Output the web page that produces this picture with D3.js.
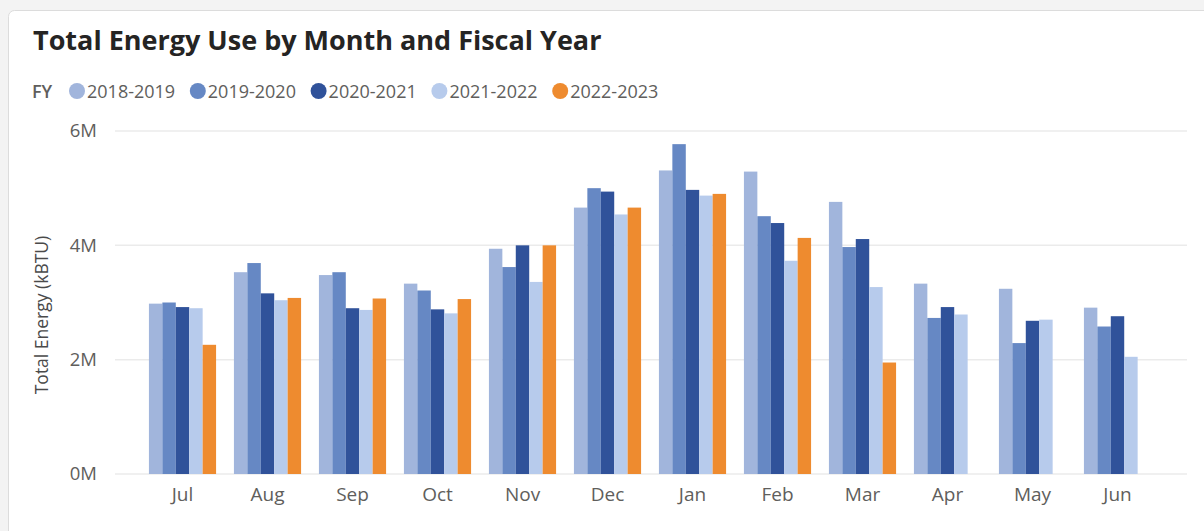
<!DOCTYPE html>
<html lang="en">
<head>
    <meta charset="UTF-8">
    <title>Total Energy Use by Month and Fiscal Year</title>
    <script src="https://cdn.jsdelivr.net/npm/d3@7/dist/d3.min.js"></script>
    <style>
        body { margin: 0; background: #f3f3f3; }
        svg { display: block; }
    </style>
</head>
<body>
    <script>
        // data (values in millions of kBTU)
        var months = ["Jul","Aug","Sep","Oct","Nov","Dec","Jan","Feb","Mar","Apr","May","Jun"];
        var fiscalYears = ["2018-2019","2019-2020","2020-2021","2021-2022","2022-2023"];
        var fy2018 = [2.98, 3.53, 3.48, 3.33, 3.94, 4.66, 5.31, 5.29, 4.76, 3.33, 3.24, 2.91];
        var fy2019 = [3.00, 3.69, 3.53, 3.21, 3.62, 5.00, 5.77, 4.51, 3.97, 2.73, 2.29, 2.58];
        var fy2020 = [2.92, 3.16, 2.90, 2.88, 4.00, 4.94, 4.97, 4.39, 4.11, 2.92, 2.68, 2.76];
        var fy2021 = [2.90, 3.04, 2.87, 2.81, 3.36, 4.54, 4.87, 3.73, 3.27, 2.79, 2.70, 2.05];
        var fy2022 = [2.26, 3.08, 3.07, 3.06, 4.00, 4.66, 4.90, 4.13, 1.95, null, null, null];
        var yTicks = [0, 2, 4, 6];
        var colors = ["#a1b5dc", "#6688c4", "#30529a", "#b7cbec", "#ee8b2f"];

        var series = [fy2018, fy2019, fy2020, fy2021, fy2022];
        var width = 1204, height = 531;
        var font = "Open Sans, sans-serif";

        var svg = d3.select("body").append("svg").attr("width", width).attr("height", height);

        // card
        svg.append("rect")
            .attr("x", 8.5).attr("y", 10.5)
            .attr("width", 1210).attr("height", 540)
            .attr("rx", 6)
            .attr("fill", "#fff")
            .attr("stroke", "#dcdcdc");

        svg.append("text")
            .attr("x", 33).attr("y", 50)
            .attr("font-family", font)
            .attr("font-weight", 700)
            .attr("font-size", 27)
            .attr("fill", "#252423")
            .text("Total Energy Use by Month and Fiscal Year");

        // legend
        var legend = svg.append("g").attr("font-family", font).attr("font-size", 18);
        legend.append("text").attr("x", 32).attr("y", 98)
            .attr("font-weight", 600).attr("fill", "#605e5c").text("FY");
        var lg = legend.selectAll("g.item").data(fiscalYears).enter().append("g")
            .attr("transform", function(d, i) { return "translate(" + (77 + i * 120.8) + ",91)"; });
        lg.append("circle").attr("r", 8).attr("fill", function(d, i) { return colors[i]; });
        lg.append("text").attr("x", 10).attr("y", 7).attr("fill", "#605e5c").text(function(d) { return d; });

        // scales
        var x = d3.scaleBand().domain(months).range([140, 1160]).paddingInner(0.21).paddingOuter(0.105);
        var xs = d3.scaleBand().domain(fiscalYears).range([0, x.bandwidth()]);
        var y = d3.scaleLinear().domain([0, 6]).range([474, 131]);

        // gridlines
        svg.append("g").selectAll("line").data(yTicks).enter().append("line")
            .attr("x1", 115).attr("x2", 1187)
            .attr("y1", function(d) { return y(d); }).attr("y2", function(d) { return y(d); })
            .attr("stroke", "#ebebeb").attr("stroke-width", 1.5);

        // y axis
        var yAxis = svg.append("g").attr("transform", "translate(97,0)")
            .call(d3.axisLeft(y).tickValues(yTicks).tickSize(0).tickPadding(0).tickFormat(function(d) { return d + "M"; }));
        yAxis.select(".domain").remove();
        yAxis.selectAll("text").attr("font-family", font).attr("font-size", 18.5).attr("fill", "#605e5c");

        svg.append("text")
            .attr("transform", "translate(48,315) rotate(-90)")
            .attr("text-anchor", "middle")
            .attr("font-family", font)
            .attr("font-size", 17.5)
            .attr("fill", "#4a4a4a")
            .text("Total Energy (kBTU)");

        // x axis
        var xAxis = svg.append("g").attr("transform", "translate(0,487)")
            .call(d3.axisBottom(x).tickSize(0).tickPadding(0));
        xAxis.select(".domain").remove();
        xAxis.selectAll("text").attr("font-family", font).attr("font-size", 19).attr("fill", "#605e5c");

        // bars
        var groups = svg.append("g").selectAll("g").data(months).enter().append("g")
            .attr("transform", function(d) { return "translate(" + x(d) + ",0)"; });
        groups.selectAll("rect")
            .data(function(m, mi) {
                return fiscalYears.map(function(fy, si) { return { fy: fy, i: si, v: series[si][mi] }; })
                    .filter(function(d) { return d.v != null; });
            })
            .enter().append("rect")
            .attr("x", function(d) { return xs(d.fy); })
            .attr("y", function(d) { return y(d.v); })
            .attr("width", xs.bandwidth())
            .attr("height", function(d) { return y(0) - y(d.v); })
            .attr("fill", function(d) { return colors[d.i]; });
    </script>
</body>
</html>
